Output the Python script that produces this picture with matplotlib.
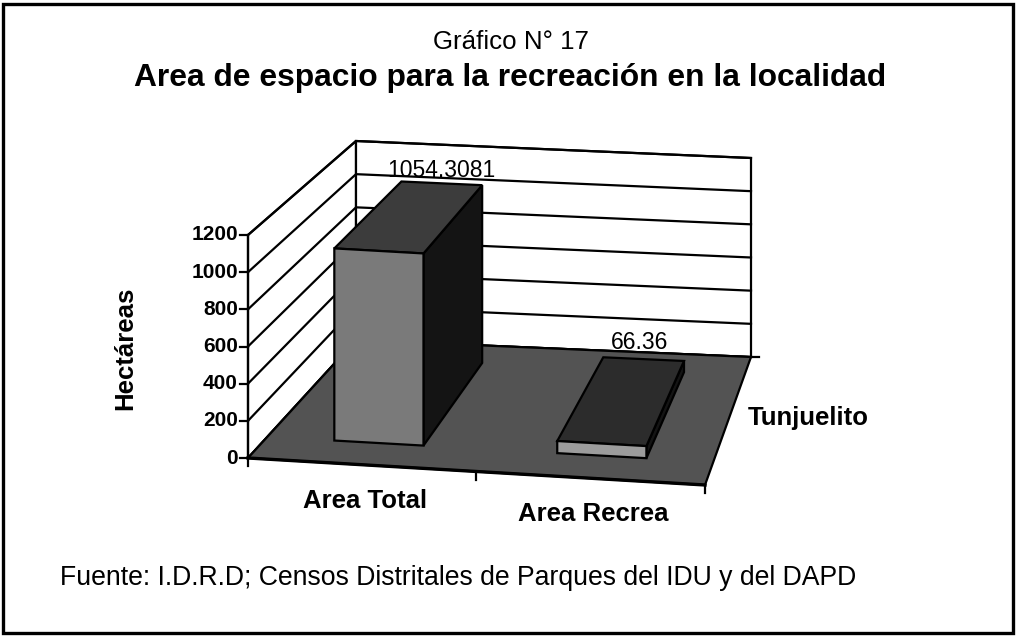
import matplotlib
matplotlib.use("Agg")
import matplotlib.pyplot as plt
from matplotlib.patches import Polygon, Rectangle

plt.rcParams['font.family'] = ['Liberation Sans', 'DejaVu Sans']

# ---------------- data ----------------
categories = ["Area Total", "Area Recrea"]
values = [1054.3081, 66.36]
value_labels = ["1054.3081", "66.36"]
series_name = "Tunjuelito"
y_ticks = [0, 200, 400, 600, 800, 1000, 1200]
y_max = 1200
y_label = "Hectáreas"
title_top = "Gráfico N° 17"
title_main = "Area de espacio para la recreación en la localidad"
source = "Fuente: I.D.R.D; Censos Distritales de Parques del IDU y del DAPD"

# ---------------- layout (3D box frame, pixel space) ----------------
W, H = 1018, 640
FRONT_O = (248.0, 458.0)   # front-left-bottom corner
FRONT_R = (457.0, 27.0)    # front bottom edge vector
FRONT_H = 223.0            # front height for y_max
BACK_O = (356.0, 340.0)    # back-left-bottom corner
BACK_R = (395.0, 17.0)     # back bottom edge vector
BACK_H = 199.0             # back height for y_max
GAP = 1.5                  # gap width (Excel 150%)
DEPTH = (0.18, 0.86)       # bar depth range

ncat = len(categories)


def proj(x, t, v):
    """x: category coordinate [0, ncat], t: depth [0 front,1 back], v: value."""
    u = x / ncat
    fx = FRONT_O[0] + u * FRONT_R[0]
    fy = FRONT_O[1] + u * FRONT_R[1] - v / y_max * FRONT_H
    bx = BACK_O[0] + u * BACK_R[0]
    by = BACK_O[1] + u * BACK_R[1] - v / y_max * BACK_H
    return (fx * (1 - t) + bx * t, fy * (1 - t) + by * t)


fig = plt.figure(figsize=(W / 100, H / 100), dpi=100)
ax = fig.add_axes([0, 0, 1, 1])
ax.set_xlim(0, W)
ax.set_ylim(H, 0)
ax.axis('off')

LW = 1.6
edge = 'black'

# side wall (left)
side = [proj(0, 0, 0), proj(0, 1, 0), proj(0, 1, y_max), proj(0, 0, y_max)]
ax.add_patch(Polygon(side, closed=True, fc='white', ec=edge, lw=LW, zorder=1))
# back wall
back = [proj(0, 1, 0), proj(ncat, 1, 0), proj(ncat, 1, y_max), proj(0, 1, y_max)]
ax.add_patch(Polygon(back, closed=True, fc='white', ec=edge, lw=LW, zorder=1))

# gridlines
for v in y_ticks:
    p0 = proj(0, 0, v)
    p1 = proj(0, 1, v)
    p2 = proj(ncat, 1, v)
    ax.plot([p0[0], p1[0], p2[0]], [p0[1], p1[1], p2[1]], color=edge, lw=LW,
            solid_joinstyle='miter', zorder=2)

# floor
floor = [proj(0, 0, 0), proj(ncat, 0, 0), proj(ncat, 1, 0), proj(0, 1, 0)]
ax.add_patch(Polygon(floor, closed=True, fc='#535353', ec=edge, lw=LW, zorder=3))
fl0, fl1 = proj(0, 0, 0), proj(ncat, 0, 0)
ax.plot([fl0[0], fl1[0]], [fl0[1], fl1[1]], color=edge, lw=2.4, zorder=3.5)

# front value axis
a0, a1 = proj(0, 0, 0), proj(0, 0, y_max)
ax.plot([a0[0], a1[0]], [a0[1], a1[1]], color=edge, lw=LW, zorder=4)
for v in y_ticks:
    px, py = proj(0, 0, v)
    ax.plot([px - 8, px], [py, py], color=edge, lw=LW, zorder=4)
    ax.text(px - 10, py, f"{v}", ha='right', va='center', fontsize=15,
            fontweight='bold', zorder=5)

# category ticks
for i in range(ncat + 1):
    px, py = proj(i, 0, 0)
    ax.plot([px, px], [py, py + 8], color=edge, lw=LW, zorder=4)
# series tick at back-right
px, py = proj(ncat, 1, 0)
ax.plot([px, px + 8], [py, py], color=edge, lw=LW, zorder=4)

# bars
w = 1.0 / (1.0 + GAP)
t0, t1 = DEPTH
front_cols = ['#7a7a7a', '#9c9c9c']
top_cols = ['#3c3c3c', '#2c2c2c']
side_col = '#141414'
for i, v in enumerate(values):
    x0 = i + 0.5 - w / 2
    x1 = i + 0.5 + w / 2
    topf = [proj(x0, t0, v), proj(x1, t0, v), proj(x1, t1, v), proj(x0, t1, v)]
    front = [proj(x0, t0, 0), proj(x1, t0, 0), proj(x1, t0, v), proj(x0, t0, v)]
    rside = [proj(x1, t0, 0), proj(x1, t1, 0), proj(x1, t1, v), proj(x1, t0, v)]
    ax.add_patch(Polygon(rside, closed=True, fc=side_col, ec=edge, lw=LW, zorder=6))
    ax.add_patch(Polygon(topf, closed=True, fc=top_cols[i], ec=edge, lw=LW, zorder=6))
    ax.add_patch(Polygon(front, closed=True, fc=front_cols[i], ec=edge, lw=LW, zorder=7))
    lx, ly = proj(i + 0.5, 1.0, v)
    ax.text(lx - 13, ly + 1, value_labels[i], ha='center', va='center',
            fontsize=16.5, zorder=8)

# category labels
for i, c in enumerate(categories):
    px, py = proj(i + 0.5, 0, 0)
    ax.text(px + 3, py + 36, c, ha='center', va='center', fontsize=18.5,
            fontweight='bold', zorder=8)

# series label
px0, py0 = proj(ncat, 0.5, 0)
ax.text(px0 + 20, py0 - 3, series_name, ha='left', va='center', fontsize=18.5,
        fontweight='bold', zorder=8)

# y axis label
ax.text(125, 348, y_label, ha='center', va='center', rotation=90, fontsize=18.5,
        fontweight='bold')

# titles and source
ax.text(511, 42, title_top, ha='center', va='center', fontsize=18.6)
ax.text(510, 78, title_main, ha='center', va='center', fontsize=22.9,
        fontweight='bold')
ax.text(60, 578, source, ha='left', va='center', fontsize=19.2)

# outer frame
ax.add_patch(Rectangle((3, 4), 1010, 629, fill=False, ec='black', lw=2.4, zorder=10))

fig.savefig("out.png", dpi=100)
